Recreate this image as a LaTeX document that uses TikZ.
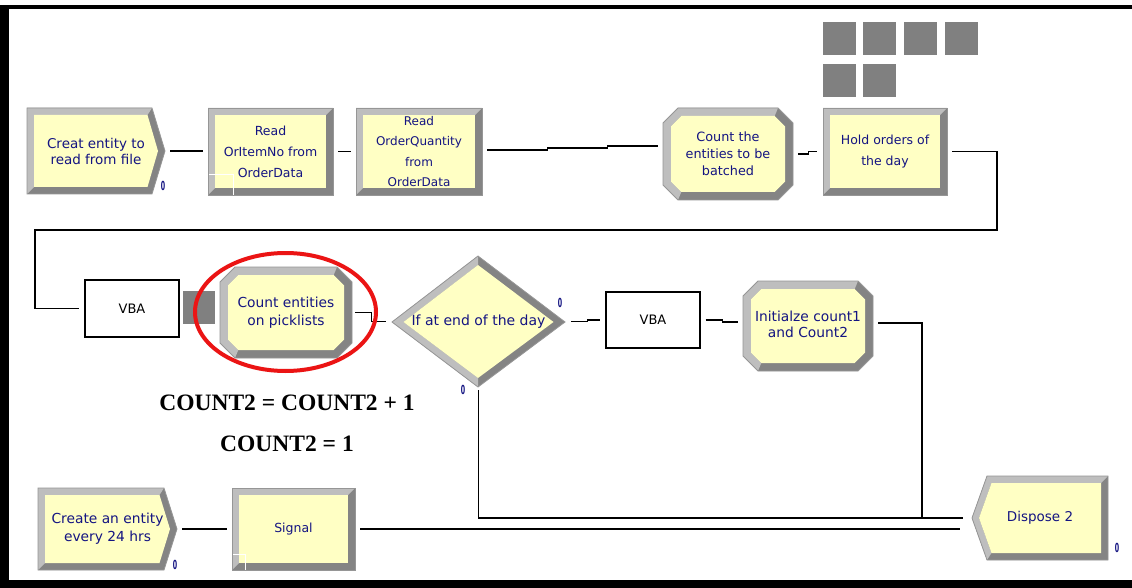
\documentclass[tikz,border=0pt]{standalone}
\usepackage{fontspec}
\setmainfont{Liberation Serif}
\newfontfamily\modfont{DejaVu Sans}
\definecolor{yel}{RGB}{255,255,196}
\definecolor{bevlight}{RGB}{190,190,190}
\definecolor{bevdark}{RGB}{132,132,132}
\definecolor{bevline}{RGB}{150,150,150}
\definecolor{navy}{RGB}{20,20,130}
\definecolor{qgray}{RGB}{128,128,128}
\definecolor{ringred}{RGB}{235,20,20}
\tikzset{
  modtext/.style={inner sep=0pt, align=center, text=navy},
  conn/.style={draw=black, line width=1.2pt},
  vbabox/.style={draw=black, line width=1.2pt, fill=white, inner sep=0pt,
    font=\modfont\fontsize{13}{15}\selectfont},
  cnt/.style={text=navy, inner sep=0pt, font=\modfont\bfseries\fontsize{12.5}{12.5}\selectfont},
  qsq/.style={fill=qgray, draw=none, minimum width=33pt, minimum height=33pt, inner sep=0pt, anchor=north west},
  glitch/.style={draw=white, line width=1pt},
}
% rectangular module: name x0 y0 x1 y1 font text
\newcommand\RectMod[7]{%
  \fill[bevdark] (#2,#3) rectangle (#4,#5);
  \fill[bevlight] (#2,#3) -- (#4,#3) -- ({#4-7},{#3+7}) -- ({#2+7},{#5-7}) -- (#2,#5) -- cycle;
  \fill[yel] ({#2+7},{#3+7}) rectangle ({#4-7},{#5-7});
  \draw[bevline, line width=0.8pt] (#2,#3) rectangle (#4,#5);
  \node[modtext, font=#6, minimum width={#4-#2}, minimum height={#5-#3}] (#1) at ({(#2+#4)/2},{(#3+#5)/2}) {#7};
}
% octagon module: name x0 y0 x1 y1 font text  (chamfer 15, bevel 8)
\newcommand\OctMod[7]{%
  \fill[bevdark] ({#2+15},#3) -- ({#4-15},#3) -- (#4,{#3+15}) -- (#4,{#5-15}) -- ({#4-15},#5) -- ({#2+15},#5) -- (#2,{#5-15}) -- (#2,{#3+15}) -- cycle;
  \fill[bevlight] ({#2+15},#5) -- (#2,{#5-15}) -- (#2,{#3+15}) -- ({#2+15},#3) -- ({#4-15},#3) -- ({#4-18.3},{#3+8}) -- ({#2+18.3},{#3+8}) -- ({#2+8},{#3+18.3}) -- ({#2+8},{#5-18.3}) -- ({#2+18.3},{#5-8}) -- cycle;
  \fill[yel] ({#2+18.3},{#3+8}) -- ({#4-18.3},{#3+8}) -- ({#4-8},{#3+18.3}) -- ({#4-8},{#5-18.3}) -- ({#4-18.3},{#5-8}) -- ({#2+18.3},{#5-8}) -- ({#2+8},{#5-18.3}) -- ({#2+8},{#3+18.3}) -- cycle;
  \draw[bevline, line width=0.8pt] ({#2+15},#3) -- ({#4-15},#3) -- (#4,{#3+15}) -- (#4,{#5-15}) -- ({#4-15},#5) -- ({#2+15},#5) -- (#2,{#5-15}) -- (#2,{#3+15}) -- cycle;
  \node[modtext, font=#6, minimum width={#4-#2}, minimum height={#5-#3}] (#1) at ({(#2+#4)/2},{(#3+#5)/2}) {#7};
}
% create module (pointed right): name x0 y0 xb xp y1 font text
\newcommand\CreateMod[8]{%
  \fill[bevdark] (#2,#3) -- (#4,#3) -- (#5,{(#3+#6)/2}) -- (#4,#6) -- (#2,#6) -- cycle;
  \fill[bevlight] (#2,#6) -- (#2,#3) -- (#4,#3) -- ({#4-4.5},{#3+7}) -- ({#2+7},{#3+7}) -- ({#2+7},{#6-7}) -- cycle;
  \fill[yel] ({#2+7},{#3+7}) -- ({#4-4.5},{#3+7}) -- ({#5-7},{(#3+#6)/2}) -- ({#4-4.5},{#6-7}) -- ({#2+7},{#6-7}) -- cycle;
  \draw[bevline, line width=0.8pt] (#2,#3) -- (#4,#3) -- (#5,{(#3+#6)/2}) -- (#4,#6) -- (#2,#6) -- cycle;
  \node[modtext, font=#7, minimum width={#5-#2}, minimum height={#6-#3}] (#1) at ({(#2+#5)/2},{(#3+#6)/2}) {#8};
}
\newcommand\ctr{\scalebox{0.5}[1]{0}}
\begin{document}
\begin{tikzpicture}[x=1pt,y=-1pt]
\useasboundingbox (0,0) rectangle (1132,588);
\fill[white] (0,0) rectangle (1132,588);
% frame
\fill[black] (0,5) rectangle (1132,9.5);
\fill[black] (0,5) rectangle (8.5,588);
\fill[black] (0,579.5) rectangle (1132,588);

% entity pictures (queue)
\node[qsq] (q1) at (823,22) {};
\node[qsq] (q2) at (863,22) {};
\node[qsq] (q3) at (904,22) {};
\node[qsq] (q4) at (945,22) {};
\node[qsq] (q5) at (823,64) {};
\node[qsq] (q6) at (863,64) {};

% top row
\CreateMod{cr1}{27}{108}{152}{165}{194}{\modfont\fontsize{13.5}{16}\selectfont}{Creat entity to\\read from file}
\RectMod{rd1}{208}{108}{333}{195}{\modfont\fontsize{12.5}{21}\selectfont}{Read\\OrItemNo from\\OrderData}
\RectMod{rd2}{356}{108}{482}{195}{\modfont\fontsize{12}{20.5}\selectfont}{Read\\OrderQuantity\\from\\OrderData}
\OctMod{cb}{663}{108}{793}{200}{\modfont\fontsize{12.8}{17}\selectfont}{Count the\\entities to be\\batched}
\RectMod{hold}{823}{108}{947}{195}{\modfont\fontsize{12.5}{21}\selectfont}{Hold orders of\\the day}
\draw[glitch] (209,175) -- (233,175) -- (233,195);

% middle row
\node[vbabox, minimum width=94pt, minimum height=57pt] (vba1) at (132,308.5) {VBA};
\node[fill=qgray, minimum width=32pt, minimum height=33pt, inner sep=0pt] (qsq) at (199,307.5) {};
\OctMod{cp}{220}{267}{352}{358}{\modfont\fontsize{13.8}{18}\selectfont}{Count entities\\on picklists}
% decide diamond
\fill[bevdark] (478,256) -- (565,322) -- (478,387) -- (392,322) -- cycle;
\fill[bevlight] (478,256) -- (392,322) -- (478,387) -- (478,378) -- (403.5,322) -- (478,265) -- cycle;
\fill[yel] (478,265) -- (553.5,322) -- (478,378) -- (403.5,322) -- cycle;
\draw[bevline, line width=0.8pt] (478,256) -- (565,322) -- (478,387) -- (392,322) -- cycle;
\node[modtext, font=\modfont\fontsize{14}{16}\selectfont, minimum width=173pt, minimum height=131pt] (dia) at (478.5,321.5) {If at end of the day};
\node[vbabox, minimum width=94pt, minimum height=56pt] (vba2) at (653,320) {VBA};
\OctMod{init}{743}{281}{873}{371}{\modfont\fontsize{13.8}{16}\selectfont}{\raisebox{3pt}{\begin{tabular}{@{}c@{}}Initialze count1\\and Count2\end{tabular}}}

% bottom row
\CreateMod{cr2}{38}{488}{164}{177}{570}{\modfont\fontsize{13.8}{18}\selectfont}{Create an entity\\every 24 hrs}
\RectMod{sig}{232}{488}{355}{570}{\modfont\fontsize{12.5}{14}\selectfont}{Signal}
\draw[glitch] (233,554) -- (245,554) -- (245,570);
% dispose (pointed left)
\fill[bevdark] (972,518) -- (987,476) -- (1108,476) -- (1108,560) -- (987,560) -- cycle;
\fill[bevlight] (987,560) -- (972,518) -- (987,476) -- (1108,476) -- (1101,483) -- (991.5,483) -- (979,518) -- (991.5,553) -- cycle;
\fill[yel] (979,518) -- (991.5,483) -- (1101,483) -- (1101,553) -- (991.5,553) -- cycle;
\draw[bevline, line width=0.8pt] (972,518) -- (987,476) -- (1108,476) -- (1108,560) -- (987,560) -- cycle;
\node[modtext, font=\modfont\fontsize{13.5}{16}\selectfont, minimum width=136pt, minimum height=84pt] (disp) at (1040,518) {Dispose 2};

% counters
\node[cnt] (n1) at (163,186) {\ctr};
\node[cnt] (n2) at (560,303) {\ctr};
\node[cnt] (n3) at (463,390) {\ctr};
\node[cnt] (n4) at (175,565) {\ctr};
\node[cnt] (n5) at (1117,548) {\ctr};

% waypoints
\coordinate (w1) at (997,230);
\coordinate (w2) at (35,230);
\coordinate (j1) at (922,518);
\coordinate (j2) at (960,529);

% connectors
\draw[conn] ([xshift=5pt]cr1.east) -- ([xshift=-5pt]cr1.east -| rd1.west);
\draw[conn] ([xshift=5pt]rd1.east) -- ([xshift=-5pt]rd2.west);
\draw[conn] ([xshift=5pt,yshift=1.5pt]rd2.east) -- ++(60,0) -- ++(0,-2) -- ++(60,0) -- ++(0,-2) -- ([xshift=-5pt,yshift=8pt]cb.west);
\draw[conn] ([xshift=5pt]cb.east) -- ++(10,0) |- ([xshift=-6pt]hold.west);
\draw[conn] ([xshift=5pt]hold.east) -| (w1) -- (w2) |- ([xshift=-5pt]vba1.west);
\draw[conn] ([xshift=3pt]cp.east) -- ++(16,0) |- ([xshift=-6pt]dia.west);
\draw[conn] ([xshift=6pt]dia.east) -- ++(16,0) |- ([xshift=-5pt]vba2.west);
\draw[conn] ([xshift=5pt]vba2.east) -- ++(17,0) |- ([xshift=-5pt,yshift=4pt]init.west);
\draw[conn] ([xshift=5pt,yshift=3pt]init.east) -| (j1) -- ([xshift=-9pt]disp.west);
\draw[conn] ([yshift=-3pt]dia.south) |- (j1);
\draw[conn] ([xshift=5pt]cr2.east) -- ([xshift=-5pt]cr2.east -| sig.west);
\draw[conn] ([xshift=5pt]sig.east |- j2) -- (j2);

% annotations
\node[font=\bfseries\fontsize{23.5}{26}\selectfont, inner sep=0pt] (eq1) at (287,402.5) {COUNT2 = COUNT2 + 1};
\node[font=\bfseries\fontsize{23.5}{26}\selectfont, inner sep=0pt] (eq2) at (287,443.5) {COUNT2 = 1};

% highlight ring
\draw[ringred, line width=4pt] (285.5,312) ellipse [x radius=90.5pt, y radius=59pt];
\end{tikzpicture}
\end{document}
